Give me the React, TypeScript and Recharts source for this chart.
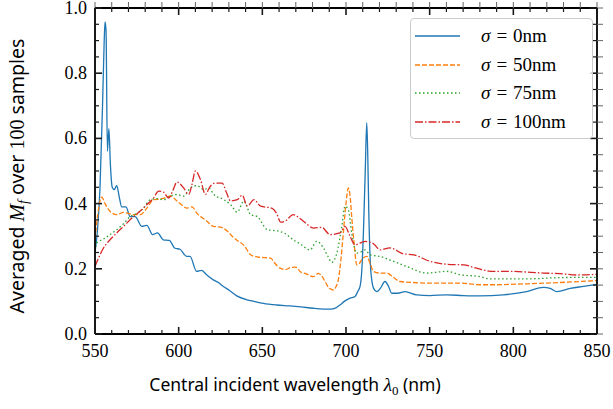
import { LineChart, Line, XAxis, YAxis, Legend } from "recharts";

// wavelength (nm), averaged M_f
const sigma0: [number, number][] = [
  [550, 0.25], [551.5, 0.32], [553, 0.45], [554.5, 0.7], [555.5, 0.9], [556, 0.957], [556.6, 0.93],
  [557.4, 0.56], [558.3, 0.63], [559.2, 0.52], [560.3, 0.45], [561.5, 0.443], [563, 0.455], [564.5, 0.42],
  [566, 0.39], [568.5, 0.39], [571, 0.36], [574, 0.36], [578, 0.33], [581, 0.333], [584.4, 0.305],
  [587.4, 0.31], [590.8, 0.289], [594.4, 0.287], [597.8, 0.263], [600.8, 0.26], [604.8, 0.238],
  [606.8, 0.238], [610.7, 0.192], [613.7, 0.195], [617, 0.18], [620.7, 0.166], [623.7, 0.158],
  [626.7, 0.146], [630, 0.135], [634.7, 0.117], [640.7, 0.105], [645, 0.1], [650.6, 0.094],
  [658.6, 0.089], [666.5, 0.086], [673, 0.083], [680.5, 0.079], [690.5, 0.076], [694, 0.08],
  [696.4, 0.089], [699, 0.1], [702.4, 0.11], [705.4, 0.115], [707, 0.13], [708.4, 0.146], [709.5, 0.2],
  [710.4, 0.31], [711.5, 0.5], [712.4, 0.648], [713, 0.55], [713.6, 0.38], [714.5, 0.22], [715.4, 0.166],
  [716.5, 0.14], [718.4, 0.13], [720.5, 0.14], [723.3, 0.161], [725.5, 0.145], [727.3, 0.125],
  [731, 0.125], [735.3, 0.13], [742.3, 0.12], [750, 0.118], [760.2, 0.12], [770, 0.118], [780, 0.117],
  [794, 0.12], [808, 0.13], [818, 0.143], [822, 0.14], [826, 0.13], [834, 0.14], [842, 0.146], [850, 0.152],
];

const sigma50: [number, number][] = [
  [550, 0.29], [552, 0.38], [554, 0.42], [556, 0.4], [559, 0.376], [563, 0.366], [567, 0.373], [570, 0.37],
  [573, 0.366], [577, 0.366], [581, 0.386], [585, 0.412], [589, 0.414], [592, 0.418], [595, 0.423],
  [599, 0.408], [602, 0.395], [605, 0.386], [608, 0.39], [611, 0.37], [616, 0.35], [621, 0.33],
  [625, 0.328], [629, 0.316], [632, 0.3], [635, 0.287], [639, 0.272], [643, 0.243], [646, 0.237],
  [649, 0.235], [655, 0.233], [657, 0.22], [660.6, 0.202], [664, 0.198], [667, 0.204], [670, 0.205],
  [672.5, 0.192], [676, 0.185], [680.5, 0.176], [683.5, 0.186], [685.5, 0.178], [687.5, 0.161],
  [690, 0.14], [692.4, 0.135], [694, 0.145], [695.4, 0.166], [697, 0.23], [698.4, 0.31], [700, 0.4],
  [701.4, 0.448], [702.5, 0.42], [703.4, 0.361], [705, 0.27], [706.4, 0.212], [707.8, 0.215],
  [709.4, 0.228], [712.4, 0.238], [714.5, 0.215], [716.4, 0.192], [720, 0.187], [724.3, 0.187],
  [728, 0.175], [732.3, 0.161], [740, 0.158], [750.2, 0.156], [768, 0.156], [780, 0.151], [788, 0.151],
  [808, 0.154], [828, 0.158], [850, 0.164],
];

const sigma75: [number, number][] = [
  [550, 0.255], [551, 0.279], [555, 0.291], [559, 0.305], [563, 0.32], [567, 0.338], [571, 0.36],
  [575, 0.37], [579, 0.386], [583, 0.412], [587, 0.415], [591, 0.412], [595, 0.423], [599, 0.428],
  [603, 0.423], [607, 0.448], [611, 0.455], [615, 0.443], [618, 0.448], [621, 0.428], [627, 0.412],
  [631, 0.397], [635, 0.374], [639, 0.408], [643, 0.366], [647, 0.36], [653, 0.32], [659, 0.316],
  [663, 0.31], [668.5, 0.289], [673, 0.275], [678.5, 0.258], [682.5, 0.284], [686.5, 0.264], [689, 0.24],
  [691.5, 0.22], [694.5, 0.248], [697.5, 0.33], [699.4, 0.392], [701.4, 0.381], [703.4, 0.31],
  [706.4, 0.248], [709, 0.252], [711.4, 0.258], [714.4, 0.243], [720.3, 0.238], [728.3, 0.223],
  [736.3, 0.207], [748.3, 0.187], [760.2, 0.192], [768, 0.182], [780, 0.176], [786, 0.169], [808, 0.169],
  [828, 0.173], [850, 0.174],
];

const sigma100: [number, number][] = [
  [550, 0.207], [555, 0.263], [559, 0.289], [563, 0.31], [567, 0.33], [573, 0.36], [577, 0.377],
  [581, 0.397], [585, 0.417], [588, 0.438], [591, 0.435], [594, 0.417], [596.5, 0.44], [599, 0.466],
  [603, 0.448], [606, 0.428], [608, 0.46], [610, 0.5], [613, 0.474], [616, 0.428], [618.5, 0.45],
  [621, 0.462], [626, 0.463], [628.5, 0.435], [631, 0.408], [635, 0.412], [638, 0.426], [641, 0.392],
  [645, 0.412], [649, 0.392], [655.6, 0.386], [658.5, 0.37], [661, 0.343], [663.6, 0.346],
  [668.5, 0.366], [674.5, 0.346], [680.5, 0.325], [685.5, 0.327], [690.5, 0.305], [696.4, 0.31],
  [699.4, 0.33], [702.4, 0.3], [705.4, 0.274], [711.4, 0.284], [716.4, 0.277], [720.3, 0.258],
  [726.3, 0.264], [734.3, 0.246], [740.3, 0.243], [750.2, 0.223], [760.2, 0.214], [770.2, 0.212],
  [778, 0.202], [788, 0.192], [798, 0.192], [818, 0.187], [828, 0.185], [838, 0.181], [850, 0.183],
];

const xMajor = [550, 600, 650, 700, 750, 800, 850];
const xTicks = [
  550, 560, 570, 580, 590, 600, 610, 620, 630, 640, 650, 660, 670, 680, 690, 700, 710, 720, 730, 740,
  750, 760, 770, 780, 790, 800, 810, 820, 830, 840, 850,
];
const yMajor = [0, 0.2, 0.4, 0.6, 0.8, 1.0];
const yTicks = [
  0, 0.05, 0.1, 0.15, 0.2, 0.25, 0.3, 0.35, 0.4, 0.45, 0.5, 0.55, 0.6, 0.65, 0.7, 0.75, 0.8, 0.85,
  0.9, 0.95, 1.0,
];

const series = [
  { name: "0nm", data: sigma0, color: "#1f77b4", dash: undefined },
  { name: "50nm", data: sigma50, color: "#ff7f0e", dash: "5 2" },
  { name: "75nm", data: sigma75, color: "#2ca02c", dash: "1.5 2.5" },
  { name: "100nm", data: sigma100, color: "#d62728", dash: "8 2 1.5 2" },
];

const serif = "'Liberation Serif', 'DejaVu Serif', serif";
const sans = "'Noto Sans', 'DejaVu Sans', sans-serif";
const ink = "#1a1a1a";
// default tickSize (6) + tickMargin (2) on the top and right axes
const OFF = 8;

const isMajor = (list: number[], v: number) => list.some((m) => Math.abs(m - v) < 1e-6);

const BottomTick = (props: any) => {
  const { x, y, payload } = props;
  const major = isMajor(xMajor, payload.value);
  return (
    <g>
      <rect x={x - (major ? 0.8 : 0.6)} y={y - (major ? 7 : 4)} width={major ? 1.6 : 1.2} height={major ? 7 : 4} fill={ink} />
      {major && (
        <text x={x} y={y + 23} textAnchor="middle" fontFamily={serif} fontSize={18} fill="#000">
          {payload.value}
        </text>
      )}
    </g>
  );
};

const LeftTick = (props: any) => {
  const { x, y, payload } = props;
  const major = isMajor(yMajor, payload.value);
  return (
    <g>
      <rect x={x} y={y - (major ? 0.8 : 0.6)} width={major ? 7 : 4} height={major ? 1.6 : 1.2} fill={ink} />
      {major && (
        <text x={x - 8} y={y + 6} textAnchor="end" fontFamily={serif} fontSize={18} fill="#000">
          {payload.value.toFixed(1)}
        </text>
      )}
    </g>
  );
};

const TopTick = (props: any) => {
  const { x, payload } = props;
  const y = props.y + OFF;
  const major = isMajor(xMajor, payload.value);
  return <rect x={x - (major ? 0.8 : 0.6)} y={y} width={major ? 1.6 : 1.2} height={major ? 7 : 4} fill={ink} />;
};

const RightTick = (props: any) => {
  const { y, payload } = props;
  const x = props.x - OFF;
  const major = isMajor(yMajor, payload.value);
  return <rect x={x - (major ? 7 : 4)} y={y - (major ? 0.8 : 0.6)} width={major ? 7 : 4} height={major ? 1.6 : 1.2} fill={ink} />;
};

const LegendBox = () => (
  <div
    style={{
      border: "1.5px solid #cccccc",
      borderRadius: 4,
      background: "rgba(255,255,255,0.8)",
      padding: "3px 0 2px 0",
    }}
  >
    {series.map((s) => (
      <div key={s.name} style={{ display: "flex", alignItems: "center", height: 28.5 }}>
        <svg width={50} height={10} style={{ marginLeft: 4 }}>
          <line x1={0} x2={45} y1={5} y2={5} stroke={s.color} strokeWidth={1.3} strokeDasharray={s.dash} />
        </svg>
        <span style={{ fontFamily: serif, fontSize: 19, marginLeft: 16, color: "#000", whiteSpace: "nowrap" }}>
          <i>σ</i>
          <span style={{ margin: "0 6px" }}>=</span>
          {s.name}
        </span>
      </div>
    ))}
  </div>
);

const frame = { stroke: "#000", strokeWidth: 1.8 };

export default function App() {
  return (
    <div style={{ position: "absolute", left: 0, top: 0 }}>
      <LineChart width={613} height={409} margin={{ top: 0, right: 0, bottom: 0, left: 0 }}>
        <XAxis
          xAxisId="bottom"
          dataKey="x"
          type="number"
          domain={[550, 850]}
          allowDataOverflow
          ticks={xTicks}
          interval={0}
          tickSize={0}
          tickMargin={0}
          tick={<BottomTick />}
          tickLine={false}
          axisLine={frame}
          height={75}
          label={{
            content: () => (
              <text x={295} y={391} textAnchor="middle" fontFamily={sans} fontSize={17.5} fill="#000">
                Central incident wavelength <tspan fontFamily={serif} fontStyle="italic" fontSize={19}>λ</tspan>
                <tspan fontFamily={serif} fontSize={13} dy={4}>0</tspan>
                <tspan dy={-4}> (nm)</tspan>
              </text>
            ),
          }}
        />
        <XAxis
          xAxisId="top"
          orientation="top"
          dataKey="x"
          type="number"
          domain={[550, 850]}
          allowDataOverflow
          ticks={xTicks}
          interval={0}
          tick={<TopTick />}
          axisLine={frame}
          height={8}
        />
        <YAxis
          yAxisId="left"
          type="number"
          domain={[0, 1]}
          allowDataOverflow
          ticks={yTicks}
          interval={0}
          tickSize={0}
          tickMargin={0}
          tick={<LeftTick />}
          tickLine={false}
          axisLine={frame}
          width={95}
          label={{
            content: () => (
              <text
                x={0}
                y={0}
                transform="translate(24,176) rotate(-90)"
                textAnchor="middle"
                fontFamily={sans}
                fontSize={19.5}
                fill="#000"
              >
                Averaged <tspan fontFamily={serif} fontStyle="italic" fontSize={21}>M</tspan>
                <tspan fontFamily={serif} fontStyle="italic" fontSize={14} dy={4}>f</tspan>
                <tspan dy={-4}> over </tspan>
                <tspan fontFamily={serif} fontSize={20}>100</tspan>
                <tspan> samples</tspan>
              </text>
            ),
          }}
        />
        <YAxis
          yAxisId="right"
          orientation="right"
          type="number"
          domain={[0, 1]}
          allowDataOverflow
          ticks={yTicks}
          interval={0}
          tick={<RightTick />}
          axisLine={frame}
          width={16}
        />
        {series.map((s) => (
          <Line
            key={s.name}
            xAxisId="bottom"
            yAxisId="left"
            data={s.data.map(([x, y]) => ({ x, y }))}
            dataKey="y"
            type="monotone"
            stroke={s.color}
            strokeWidth={1.3}
            strokeDasharray={s.dash}
            dot={false}
            activeDot={false}
            isAnimationActive={false}
          />
        ))}
        <Legend
          layout="horizontal"
          verticalAlign="middle"
          align="center"
          content={() => <LegendBox />}
          wrapperStyle={{ position: "absolute", left: 410, top: 18, width: 183, height: "auto" }}
        />
      </LineChart>
    </div>
  );
}
